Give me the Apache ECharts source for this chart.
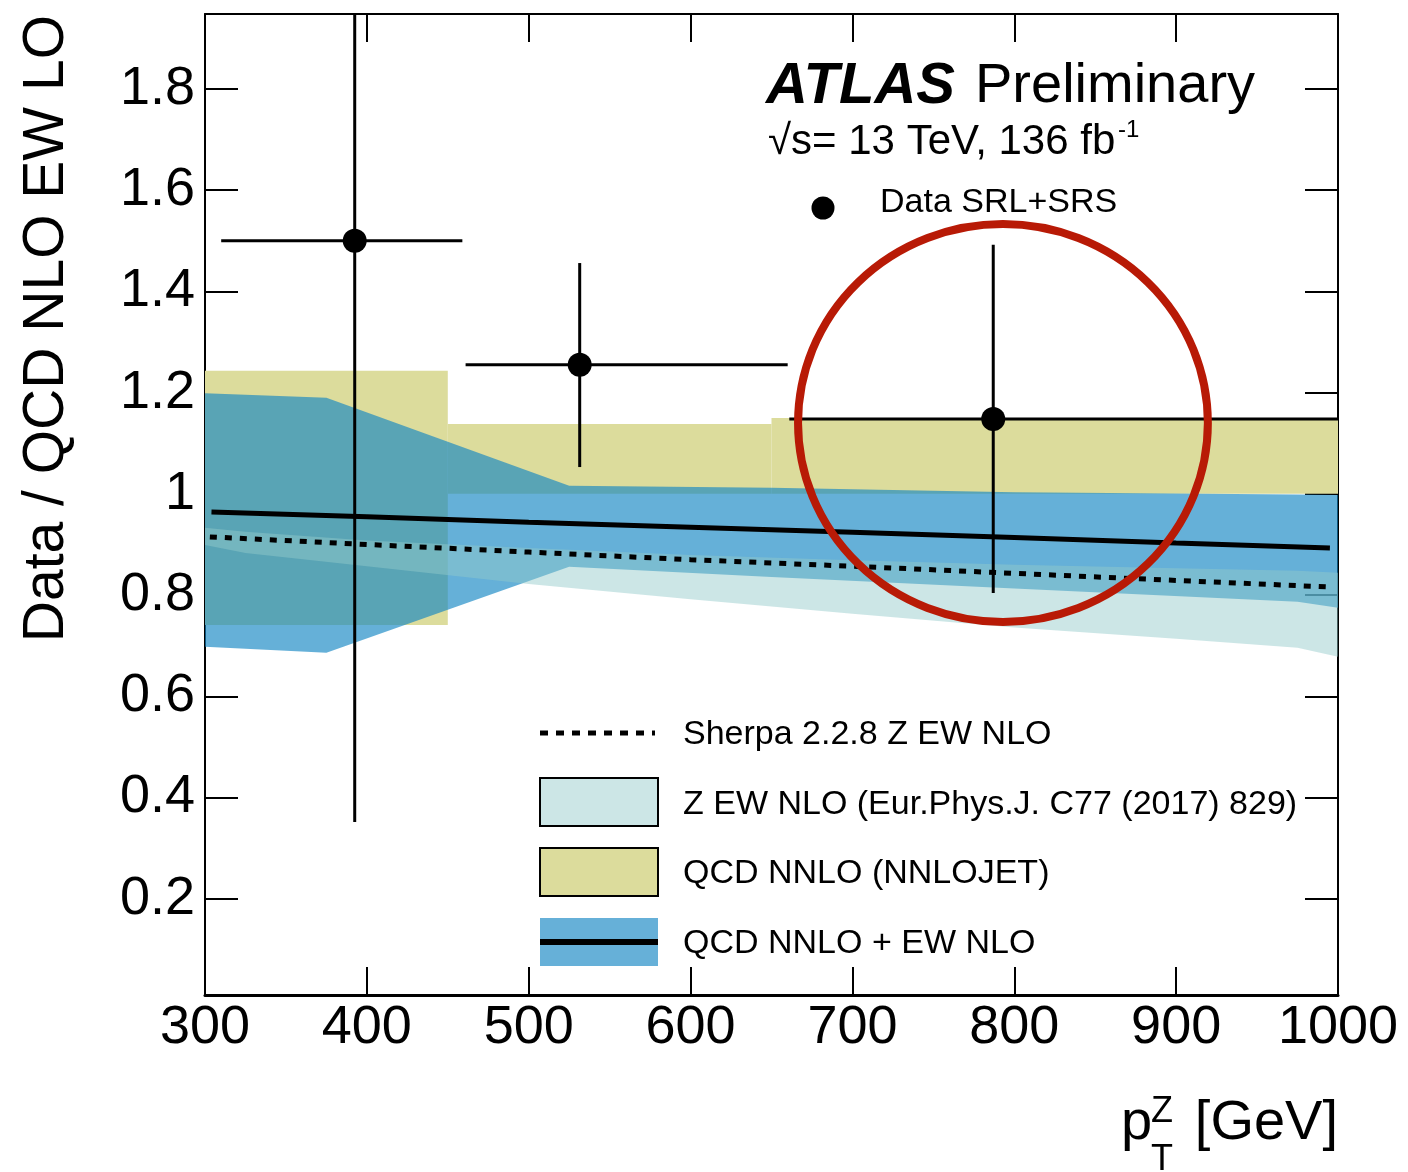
<!DOCTYPE html>
<html>
<head>
<meta charset="utf-8">
<script src="https://cdn.jsdelivr.net/npm/echarts@6/dist/echarts.min.js"></script>
<style>
html, body { margin: 0; padding: 0; background: #fff; }
#chart { width: 1408px; height: 1172px; }
</style>
</head>
<body>
<div id="chart"></div>
<script>
// data points (Data SRL+SRS)
const dataX = [392.5, 531.5, 787];
const dataY = [1.50, 1.255, 1.148];
const dataXLo = [310, 461, 661];
const dataXHi = [459, 660, 1000];
const dataYLo = [0.352, 1.053, 0.804];
const dataYHi = [2.0, 1.456, 1.492];

// QCD NNLO (NNLOJET) band, per bin
const qcdBinLo = [300, 450, 650];
const qcdBinHi = [450, 650, 1000];
const qcdDown = [0.741, 1.0, 1.0];
const qcdUp = [1.243, 1.138, 1.150];

// QCD NNLO + EW NLO band
const combX = [300, 375, 525, 650, 800, 975, 1000];
const combDown = [0.698, 0.686, 0.856, 0.836, 0.813, 0.787, 0.775];
const combUp = [1.199, 1.190, 1.016, 1.012, 1.003, 0.999, 0.998];

// Z EW NLO band
const ewX = [300, 325, 400, 500, 600, 700, 800, 900, 975, 1000];
const ewDown = [0.899, 0.883, 0.857, 0.822, 0.792, 0.763, 0.736, 0.714, 0.696, 0.678];
const ewUp = [0.933, 0.925, 0.908, 0.893, 0.879, 0.869, 0.860, 0.853, 0.848, 0.844];

// central lines
const combLineX = [304, 400, 500, 600, 700, 800, 900, 995];
const combLine = [0.964, 0.955, 0.944, 0.934, 0.924, 0.914, 0.903, 0.893];
const sherpaX = [303, 400, 500, 600, 700, 800, 900, 995];
const sherpaLine = [0.915, 0.900, 0.885, 0.870, 0.857, 0.843, 0.829, 0.816];

// axis ticks
const xTicks = [300, 400, 500, 600, 700, 800, 900, 1000];
const yTicks = [0.2, 0.4, 0.6, 0.8, 1.0, 1.2, 1.4, 1.6, 1.8];

// hand drawn marker (centre and radii in axis units)
const markCenter = [793, 1.14];
const markRadius = [126.6, 0.393];

const legendNames = [
  'Sherpa 2.2.8 Z EW NLO',
  'Z EW NLO (Eur.Phys.J. C77 (2017) 829)',
  'QCD NNLO (NNLOJET)',
  'QCD NNLO + EW NLO'
];

const FONT = '"Liberation Sans", Arial, Helvetica, sans-serif';
const yellow = '#dcdc9c';
const blue = 'rgba(18,133,195,0.65)';
const teal = 'rgba(147,202,202,0.47)';

function band (xs, lo, hi, color, z) {
  return {
    type: 'custom',
    z: z,
    clip: true,
    silent: true,
    data: xs.map((x, i) => [x, lo[i], hi[i]]),
    renderItem (params, api) {
      if (params.dataIndex !== 0) return null;
      let pts = [];
      xs.forEach((x, i) => pts.push(api.coord([x, hi[i]])));
      for (let i = xs.length - 1; i >= 0; i--) pts.push(api.coord([xs[i], lo[i]]));
      return { type: 'polygon', shape: { points: pts }, style: { fill: color } };
    }
  };
}

function xAxisCfg (pos) {
  return {
    type: 'value', position: pos, min: 300, max: 1000, interval: 100,
    axisLine: { show: true, onZero: false, lineStyle: { color: '#000', width: pos === 'bottom' ? 3 : 2 } },
    axisTick: { show: true, inside: true, length: 28, customValues: xTicks, lineStyle: { color: '#000', width: 2 } },
    axisLabel: {
      show: pos === 'bottom', fontSize: 54, color: '#000', fontFamily: FONT, margin: 6,
      customValues: xTicks,
      formatter: v => String(v)
    },
    splitLine: { show: false }
  };
}

function yAxisCfg (pos) {
  return {
    type: 'value', position: pos, min: 0.01, max: 1.948,
    axisLine: { show: true, onZero: false, lineStyle: { color: '#000', width: 2 } },
    axisTick: { show: true, inside: true, length: 33, customValues: yTicks, lineStyle: { color: '#000', width: 2 } },
    axisLabel: {
      show: pos === 'left', fontSize: 54, color: '#000', fontFamily: FONT, margin: 10,
      customValues: yTicks,
      formatter: v => Math.abs(v - 1) < 1e-9 ? '1' : v.toFixed(1)
    },
    splitLine: { show: false }
  };
}

function txt (text, x, y, size, extra) {
  return Object.assign({
    type: 'text', x: x, y: y, z: 100,
    style: Object.assign({
      text: text, fontSize: size, fontFamily: FONT, fill: '#000',
      align: 'left', verticalAlign: 'middle'
    }, (extra && extra.style) || {})
  }, extra && extra.el ? extra.el : {});
}

let myChart = echarts.init(document.getElementById('chart'), null, { renderer: 'canvas' });

let options = {
  animation: false,
  backgroundColor: '#fff',
  grid: { left: 205, right: 70, top: 14, bottom: 177, outerBoundsMode: 'none' },
  xAxis: [xAxisCfg('bottom'), xAxisCfg('top')],
  yAxis: [yAxisCfg('left'), yAxisCfg('right')],
  series: [
    {
      type: 'custom',
      z: 1,
      clip: true,
      silent: true,
      data: qcdBinLo.map((lo, i) => [lo, qcdBinHi[i], qcdDown[i], qcdUp[i]]),
      renderItem (params, api) {
        let p1 = api.coord([api.value(0), api.value(3)]);
        let p2 = api.coord([api.value(1), api.value(2)]);
        return {
          type: 'rect',
          shape: { x: p1[0], y: p1[1], width: p2[0] - p1[0], height: p2[1] - p1[1] },
          style: { fill: yellow }
        };
      }
    },
    band(combX, combDown, combUp, blue, 2),
    band(ewX, ewDown, ewUp, teal, 3),
    {
      type: 'line', z: 4, symbol: 'none', silent: true,
      data: combLineX.map((x, i) => [x, combLine[i]]),
      lineStyle: { color: '#000', width: 5 }
    },
    {
      type: 'line', z: 4, symbol: 'none', silent: true,
      data: sherpaX.map((x, i) => [x, sherpaLine[i]]),
      lineStyle: { color: '#000', width: 5, type: [7, 8], cap: 'butt' }
    },
    {
      type: 'custom',
      z: 5,
      clip: true,
      silent: true,
      data: dataX.map((x, i) => [x, dataY[i], dataXLo[i], dataXHi[i], dataYLo[i], dataYHi[i]]),
      renderItem (params, api) {
        let xl = api.coord([api.value(2), api.value(1)]);
        let xh = api.coord([api.value(3), api.value(1)]);
        let yl = api.coord([api.value(0), api.value(4)]);
        let yh = api.coord([api.value(0), api.value(5)]);
        let st = { stroke: '#000', lineWidth: 3 };
        return {
          type: 'group',
          children: [
            { type: 'line', shape: { x1: xl[0], y1: xl[1], x2: xh[0], y2: xh[1] }, style: st },
            { type: 'line', shape: { x1: yl[0], y1: yl[1], x2: yh[0], y2: yh[1] }, style: st }
          ]
        };
      }
    },
    {
      type: 'scatter', z: 6, silent: true,
      data: dataX.map((x, i) => [x, dataY[i]]),
      symbol: 'circle', symbolSize: 24,
      itemStyle: { color: '#000', opacity: 1 }
    },
    {
      type: 'custom',
      z: 7,
      silent: true,
      data: [[markCenter[0], markCenter[1], markRadius[0], markRadius[1]]],
      renderItem (params, api) {
        let c = api.coord([api.value(0), api.value(1)]);
        let s = api.size([api.value(2), api.value(3)]);
        let d = 'M ' + (c[0] - s[0]) + ' ' + c[1] +
          ' A ' + s[0] + ' ' + s[1] + ' 0 1 0 ' + (c[0] + s[0]) + ' ' + c[1] +
          ' A ' + s[0] + ' ' + s[1] + ' 0 1 0 ' + (c[0] - s[0]) + ' ' + c[1] + ' Z';
        return {
          type: 'path',
          shape: { pathData: d },
          style: { fill: 'none', stroke: '#b81a06', lineWidth: 8 }
        };
      }
    }
  ],
  graphic: [
    // axis titles
    txt('Data / QCD NLO EW LO', 0, 0, 57, {
      el: { x: 47, y: 15, rotation: Math.PI / 2 },
      style: { align: 'right' }
    }),
    txt('p', 1121, 1124, 56),
    txt('Z', 1151, 1112, 36),
    txt('T', 1151, 1160, 36),
    txt('[GeV]', 1338, 1124, 56, { style: { align: 'right' } }),
    // ATLAS label
    txt('ATLAS', 766, 87, 58, { style: { fontWeight: 'bold', fontStyle: 'italic' } }),
    txt('Preliminary', 975, 87, 56),
    txt('\u221As= 13 TeV, 136 fb', 768, 142, 42),
    txt('-1', 1118, 130, 24),
    // legend
    { type: 'circle', z: 100, shape: { cx: 823, cy: 208, r: 11.5 }, style: { fill: '#000' } },
    txt('Data SRL+SRS', 880, 203, 34),
    { type: 'line', z: 100, shape: { x1: 540, y1: 733, x2: 655, y2: 733 },
      style: { stroke: '#000', lineWidth: 5, lineDash: [8, 8] } },
    { type: 'rect', z: 100, shape: { x: 540, y: 778, width: 118, height: 48 },
      style: { fill: '#cce6e6', stroke: '#000', lineWidth: 2 } },
    { type: 'rect', z: 100, shape: { x: 540, y: 848, width: 118, height: 48 },
      style: { fill: yellow, stroke: '#000', lineWidth: 2 } },
    { type: 'rect', z: 100, shape: { x: 540, y: 918, width: 118, height: 48 },
      style: { fill: '#66b0d8' } },
    { type: 'line', z: 101, shape: { x1: 540, y1: 942, x2: 658, y2: 942 },
      style: { stroke: '#000', lineWidth: 6 } },
    txt(legendNames[0], 683, 735, 34),
    txt(legendNames[1], 683, 805, 34),
    txt(legendNames[2], 683, 874, 34),
    txt(legendNames[3], 683, 944, 34)
  ]
};

myChart.setOption(options);
</script>
</body>
</html>
